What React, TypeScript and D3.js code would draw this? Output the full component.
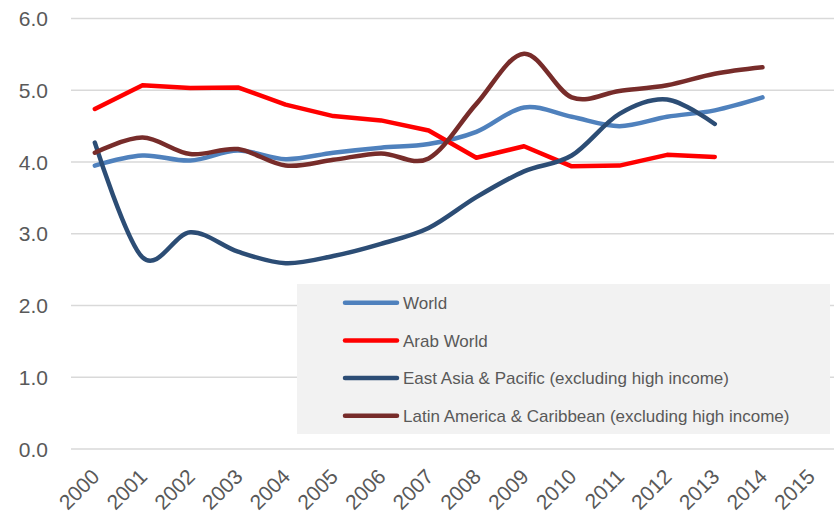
import React from "react";
import * as d3 from "d3";

const years = ["2000","2001","2002","2003","2004","2005","2006","2007","2008","2009","2010","2011","2012","2013","2014","2015"];
const yTicks = [0, 1, 2, 3, 4, 5, 6];

const world = [3.95, 4.09, 4.02, 4.16, 4.04, 4.13, 4.2, 4.25, 4.42, 4.76, 4.63, 4.5, 4.63, 4.72, 4.9];
const arabWorld = [4.74, 5.07, 5.03, 5.04, 4.8, 4.64, 4.58, 4.44, 4.06, 4.22, 3.94, 3.95, 4.1, 4.07];
const eastAsia = [4.27, 2.67, 3.02, 2.75, 2.59, 2.69, 2.86, 3.08, 3.51, 3.87, 4.09, 4.67, 4.87, 4.53];
const latinAmerica = [4.13, 4.34, 4.11, 4.18, 3.95, 4.03, 4.12, 4.05, 4.81, 5.51, 4.9, 4.99, 5.07, 5.23, 5.32];

const seriesNames = [
  "World",
  "Arab World",
  "East Asia & Pacific (excluding high income)",
  "Latin America & Caribbean (excluding high income)",
];

export default function App() {
  const W = 838, H = 515;
  const left = 71, right = 834, top = 18.5, bottom = 449;
  const x = d3.scaleBand<string>().domain(years).range([left, right]);
  const y = d3.scaleLinear().domain([0, 6]).range([bottom, top]);
  const cx = (i: number) => (x(years[i]) as number) + x.bandwidth() / 2;

  const series = [
    { name: seriesNames[0], values: world, color: "#4F81BD", curve: d3.curveCatmullRom.alpha(0) },
    { name: seriesNames[1], values: arabWorld, color: "#FF0000", curve: d3.curveLinear },
    { name: seriesNames[2], values: eastAsia, color: "#2C4D75", curve: d3.curveCatmullRom.alpha(0) },
    { name: seriesNames[3], values: latinAmerica, color: "#772C2A", curve: d3.curveCatmullRom.alpha(0) },
  ];

  const font = "'Liberation Sans', Arial, sans-serif";
  const textColor = "#595959";

  const legendX = 297, legendY = 284, legendW = 533, legendH = 150;
  const rowY = (i: number) => 302.7 + i * 37.7;

  return (
    <svg width={W} height={H} style={{ position: "absolute", left: 0, top: 0, background: "#fff" }} fontFamily={font}>
      {yTicks.map((t) => (
        <g key={t}>
          <line x1={left} x2={right} y1={y(t)} y2={y(t)} stroke="#D9D9D9" strokeWidth={1.5} />
          <text x={48} y={y(t)} dy="0.36em" textAnchor="end" fontSize={21} fill={textColor}>
            {t.toFixed(1)}
          </text>
        </g>
      ))}
      {years.map((yr, i) => (
        <text
          key={yr}
          transform={`translate(${cx(i) + 6},${478}) rotate(-45)`}
          textAnchor="end"
          fontSize={21}
          fill={textColor}
        >
          {yr}
        </text>
      ))}
      <rect x={legendX} y={legendY} width={legendW} height={legendH} fill="#F2F2F2" />
      {series.map((s, i) => (
        <g key={s.name}>
          <line x1={345} x2={397} y1={rowY(i)} y2={rowY(i)} stroke={s.color} strokeWidth={4.5} strokeLinecap="round" />
          <text x={403} y={rowY(i)} dy="0.36em" fontSize={17} fill={textColor}>
            {s.name}
          </text>
        </g>
      ))}
      {series.map((s) => {
        const line = d3
          .line<number>()
          .x((_, i) => cx(i))
          .y((v) => y(v))
          .curve(s.curve);
        return (
          <path
            key={s.name}
            d={line(s.values) || ""}
            fill="none"
            stroke={s.color}
            strokeWidth={4.5}
            strokeLinecap="round"
            strokeLinejoin="round"
          />
        );
      })}
    </svg>
  );
}
